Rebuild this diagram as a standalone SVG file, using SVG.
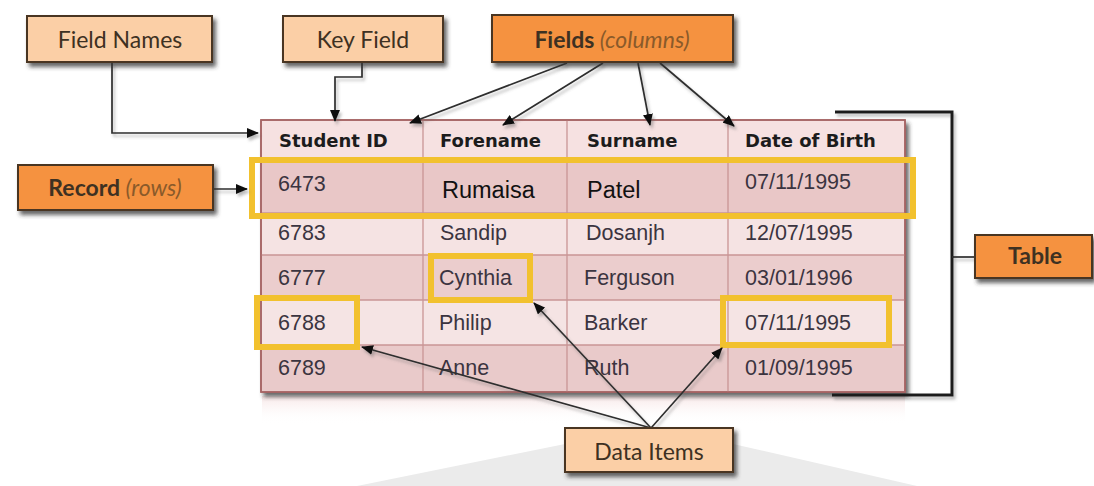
<svg xmlns="http://www.w3.org/2000/svg" width="1094" height="486" viewBox="0 0 1094 486">
<defs>
<style>
.box{stroke:#4a3520;stroke-width:2}
.light{fill:#fbcfa6}
.orange{fill:#f5923f}
.bt{font-family:Lato,"Open Sans",sans-serif;font-size:23px;fill:#3e3122;text-anchor:middle}
.b{font-weight:bold}
.it{font-style:italic;fill:#8a5a2a;font-weight:normal}
.hd{font-family:"DejaVu Sans",Verdana,sans-serif;font-weight:bold;font-size:18px;fill:#1c1c1c}
.dt{font-family:"Liberation Sans",Arial,sans-serif;font-size:21.5px;fill:#3b3440}
.big{font-family:"Liberation Sans",Arial,sans-serif;font-size:23.5px;fill:#111}
.grid{stroke:#c99595;stroke-width:1.3;fill:none}
.yl{fill:none;stroke:#f2c12e;stroke-width:6}
.con{fill:none;stroke:#2e2e2e;stroke-width:1.7}
.arr{marker-end:url(#ah)}
</style>
<marker id="ah" markerUnits="userSpaceOnUse" markerWidth="12" markerHeight="10" refX="11" refY="5" orient="auto">
<path d="M0,0 L12,5 L0,10 z" fill="#111"/>
</marker>
<filter id="sh" x="-10%" y="-20%" width="125%" height="150%">
<feDropShadow dx="3" dy="4" stdDeviation="2" flood-color="#333" flood-opacity="0.75"/>
</filter>
<filter id="lsh" x="-10%" y="-10%" width="130%" height="130%">
<feDropShadow dx="2" dy="3" stdDeviation="1.5" flood-color="#666" flood-opacity="0.45"/>
</filter>
<linearGradient id="refl" x1="0" y1="0" x2="0" y2="1">
<stop offset="0" stop-color="#f6e2e2" stop-opacity="0.8"/>
<stop offset="1" stop-color="#ffffff" stop-opacity="0"/>
</linearGradient>
</defs>
<rect width="1094" height="486" fill="#ffffff"/>
<polygon points="357,486 565,444 733,444 917,486" fill="#ebebeb"/>
<rect x="262" y="396" width="643" height="28" fill="url(#refl)"/>

<g id="table">
<g filter="url(#sh)">
<rect x="261" y="120" width="644" height="272" fill="#f6e1e1" stroke="#9c5a5a" stroke-width="1.5"/>
</g>
<rect x="262" y="160" width="642" height="53" fill="#e9c7c7"/>
<rect x="262" y="213" width="642" height="42" fill="#f5e3e3"/>
<rect x="262" y="255" width="642" height="45" fill="#ebcdcd"/>
<rect x="262" y="300" width="642" height="45" fill="#f5e4e4"/>
<rect x="262" y="345" width="642" height="46" fill="#e9caca"/>
<path class="grid" d="M423,120 V392 M567,120 V392 M728,120 V392 M261,160 H905 M261,213 H905 M261,255 H905 M261,300 H905 M261,345 H905"/>
<rect x="261" y="120" width="644" height="272" fill="none" stroke="#a86666" stroke-width="1.5"/>
<text class="hd" x="279" y="147">Student ID</text>
<text class="hd" x="440" y="147">Forename</text>
<text class="hd" x="587" y="147">Surname</text>
<text class="hd" x="745" y="147">Date of Birth</text>
<text class="dt" x="278" y="191">6473</text>
<text class="big" x="442" y="198">Rumaisa</text>
<text class="big" x="587" y="198">Patel</text>
<text class="dt" x="745" y="189">07/11/1995</text>
<text class="dt" x="278" y="240">6783</text>
<text class="dt" x="440" y="240">Sandip</text>
<text class="dt" x="586" y="240">Dosanjh</text>
<text class="dt" x="745" y="240">12/07/1995</text>
<text class="dt" x="278" y="285">6777</text>
<text class="dt" x="439" y="285">Cynthia</text>
<text class="dt" x="584" y="285">Ferguson</text>
<text class="dt" x="745" y="285">03/01/1996</text>
<text class="dt" x="278" y="330">6788</text>
<text class="dt" x="439" y="330">Philip</text>
<text class="dt" x="584" y="330">Barker</text>
<text class="dt" x="745" y="330">07/11/1995</text>
<text class="dt" x="278" y="375">6789</text>
<text class="dt" x="439" y="375">Anne</text>
<text class="dt" x="584" y="375">Ruth</text>
<text class="dt" x="745" y="375">01/09/1995</text>
</g>

<g id="highlights">
<rect class="yl" x="252" y="160" width="661" height="56"/>
<rect class="yl" x="431" y="256" width="99" height="44"/>
<rect class="yl" x="257" y="298" width="100" height="49"/>
<rect class="yl" x="723" y="298" width="166" height="47"/>
</g>

<g id="connectors" filter="url(#lsh)">
<path class="con arr" d="M112,62 V133 H258"/>
<path class="con arr" d="M362,62 V77 H335 V121"/>
<path class="con arr" d="M567,63 L410,123"/>
<path class="con arr" d="M603,63 L503,125"/>
<path class="con arr" d="M638,63 L650,125"/>
<path class="con arr" d="M660,63 L734,126"/>
<path class="con arr" d="M213,189 H247"/>
<path d="M835,112 H952 V395 H832" fill="none" stroke="#1e1e1e" stroke-width="3"/>
<path class="con" d="M952,257 H975" stroke-width="2.5"/>
<path class="con arr" d="M651,428 L362,347"/>
<path class="con arr" d="M651,428 L534,303"/>
<path class="con arr" d="M651,428 L722,348"/>
</g>

<g id="field-names">
<rect class="box light" x="27" y="16" width="185" height="46" filter="url(#sh)"/>
<text class="bt" x="120" y="48">Field Names</text>
</g>
<g id="key-field">
<rect class="box light" x="283" y="16" width="160" height="46" filter="url(#sh)"/>
<text class="bt" x="363" y="48">Key Field</text>
</g>
<g id="fields">
<rect class="box orange" x="492" y="15" width="241" height="47" filter="url(#sh)"/>
<text class="bt" x="612" y="48"><tspan class="b">Fields</tspan><tspan class="it"> (columns)</tspan></text>
</g>
<g id="record">
<rect class="box orange" x="18" y="165" width="195" height="45" filter="url(#sh)"/>
<text class="bt" x="115" y="196"><tspan class="b">Record</tspan><tspan class="it"> (rows)</tspan></text>
</g>
<g id="table-label">
<rect class="box orange" x="975" y="235" width="117" height="43" filter="url(#sh)"/>
<text class="bt b" x="1035" y="264">Table</text>
</g>
<g id="data-items">
<rect class="box light" x="565" y="428" width="168" height="44" filter="url(#sh)"/>
<text class="bt" x="649" y="460">Data Items</text>
</g>
</svg>
